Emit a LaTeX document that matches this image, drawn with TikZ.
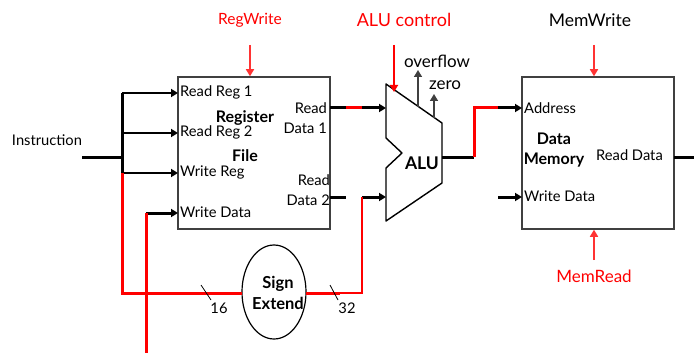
\documentclass[tikz,border=0pt]{standalone}
\usepackage{fontspec}
\setmainfont{Lato}
\usetikzlibrary{arrows.meta, shapes.geometric}

\begin{document}
\begin{tikzpicture}[
        x=1pt, y=-1pt,
        font=\fontsize{14.7}{20}\selectfont,
        block/.style={draw=black!75, line width=1.5pt, minimum width=152pt, minimum height=152pt, inner sep=0pt},
        lbl/.style={inner sep=0pt, align=center},
        big/.style={lbl, font=\fontsize{17}{20}\selectfont},
        port/.style={inner sep=0pt, anchor=west},
        head/.style={inner sep=0pt, align=center, font=\fontsize{16}{20}\selectfont\bfseries},
        bus/.style={line width=3pt},
        wire/.style={line width=2pt},
        hot/.style={line width=3pt, red},
        ctrl/.style={line width=1.6pt, red!80},
        flag/.style={line width=1.5pt, black!75},
        >={Triangle[length=7pt, width=8pt]}
      ]
        \useasboundingbox (0,0) rectangle (694,353);

        % register file
        \node[block] (regs) at (254,153) {};
        \node[head] (regsname) at (245,136) {Register\\[19pt]File};
        \node[port] (rr1) at (180,92) {Read Reg 1};
        \node[port] (rr2) at (180,132) {Read Reg 2};
        \node[port] (wr) at (180,172) {Write Reg};
        \node[port] (wd) at (180,212) {Write Data};
        \node[lbl, anchor=east, align=right] (rd1) at (327,118) {Read\\Data 1};
        \node[lbl, anchor=east, align=right] (rd2) at (330,190) {Read\\Data 2};
        \coordinate (rr1in) at (178,93);
        \coordinate (rr2in) at (178,133);
        \coordinate (wrin) at (178,173);
        \coordinate (wdin) at (178,213);
        \coordinate (rd1out) at (330,108);
        \coordinate (rd2out) at (330,197);

        % alu
        \coordinate (a1) at (386,84);
        \coordinate (a2) at (442,123);
        \coordinate (a3) at (442,183);
        \coordinate (a4) at (386,221);
        \coordinate (a5) at (386,168);
        \coordinate (a6) at (402,153);
        \coordinate (a7) at (386,138);
        \draw[line width=1.4pt, line join=round] (a1) -- (a2) -- (a3) -- (a4) -- (a5) -- (a6) -- (a7) -- cycle;
        \node[head, font=\fontsize{17.5}{20}\selectfont\bfseries] (alu) at (422,163) {ALU};

        % data memory
        \node[block] (mem) at (598,153) {};
        \node[head] (memname) at (554,150) {Data\\Memory};
        \node[port] (addr) at (524,108) {Address};
        \node[port] (wdata) at (524,196) {Write Data};
        \node[port] (rdata) at (596,155) {Read Data};
        \coordinate (addrin) at (522,108);
        \coordinate (wdatain) at (522,197);
        \coordinate (rdataout) at (674,157);

        % sign extend
        \node[draw, ellipse, line width=1.2pt, minimum width=64pt, minimum height=94pt, inner sep=0pt] (sign) at (274,292) {};
        \node[head, font=\fontsize{16.5}{20.5}\selectfont\bfseries] (signname) at (278,293) {Sign\\Extend};

        % top and bottom labels
        \node[big, red, font=\fontsize{15.5}{20}\selectfont] (regwrite) at (250,20) {RegWrite};
        \node[big, red, font=\fontsize{18}{20}\selectfont] (aluctl) at (404,20) {ALU control};
        \node[big, font=\fontsize{17.5}{20}\selectfont] (memwrite) at (590,20) {MemWrite};
        \node[big, red] (memread) at (594,276) {MemRead};
        \node[big] (overflow) at (437,61) {overflow};
        \node[big] (zero) at (445,85) {zero};
        \node[lbl] (instr) at (47,140) {Instruction};
        \node[lbl] (n16) at (219,308) {16};
        \node[lbl] (n32) at (347,308) {32};

        % junctions
        \coordinate (instrin) at (82,157);
        \coordinate (split) at (122,157);
        \coordinate (bustop) at (122,93);
        \coordinate (busr2) at (122,133);
        \coordinate (busbot) at (122,173);
        \coordinate (corner) at (122,293);
        \coordinate (wdup) at (146,213);
        \coordinate (wddown) at (146,353);
        \coordinate (signin) at (242,293);
        \coordinate (signout) at (306,293);
        \coordinate (signmid) at (340,293);
        \coordinate (signup) at (362,293);
        \coordinate (alub) at (362,197);
        \coordinate (alubin) at (386,197);
        \coordinate (stub2) at (346,197);
        \coordinate (rd1a) at (346,108);
        \coordinate (rd1b) at (362,108);
        \coordinate (aluain) at (386,108);
        \coordinate (aluout) at (442,157);
        \coordinate (memup) at (474,157);
        \coordinate (memtop) at (474,108);
        \coordinate (memhot) at (498,108);
        \coordinate (wdatafrom) at (498,197);
        \coordinate (rdataend) at (694,157);

        % black wires
        \draw[bus] (instrin) -- (split);
        \draw[bus] (bustop) -- (busbot);
        \draw[wire, ->] (bustop) -- (rr1in);
        \draw[wire, ->] (busr2) -- (rr2in);
        \draw[wire, ->] (busbot) -- (wrin);
        \draw[bus, ->] (wdup) -- (wdin);
        \draw[bus] (rd1out) -- (rd1a);
        \draw[bus, ->] (rd1b) -- (aluain);
        \draw[bus] (rd2out) -- (stub2);
        \draw[bus, ->] (alub) -- (alubin);
        \draw[bus] (aluout) -- (memup);
        \draw[bus, ->] (memhot) -- (addrin);
        \draw[bus, ->] (wdatafrom) -- (wdatain);
        \draw[bus] (rdataout) -- (rdataend);

        % added wires
        \draw[hot] (busbot) -- (corner) -- (signin);
        \draw[hot] (wdup) -- (wddown);
        \draw[hot] (signout) -- (signmid);
        \draw[hot, line width=2.4pt] (signmid) -- (signup) -- (alub);
        \draw[hot] (rd1a) -- (rd1b);
        \draw[hot] (memup) -- (memtop) -- (memhot);

        % control arrows
        \draw[ctrl, ->] (250,45) -- (regs.north -| 250,0);
        \draw[hot, line width=2pt, ->] (394,45) -- (394,92);
        \draw[ctrl, ->] (594,45) -- (mem.north -| 594,0);
        \draw[ctrl, ->] (594,260) -- (mem.south -| 594,0);
        \draw[flag, ->] (418,107) -- (418,70);
        \draw[flag, ->] (434,118) -- (434,94);

        % bit width ticks
        \draw[line width=0.8pt] (201,285) -- (211,300);
        \draw[line width=0.8pt] (330,285) -- (338,300);
    \end{tikzpicture}
\end{document}
